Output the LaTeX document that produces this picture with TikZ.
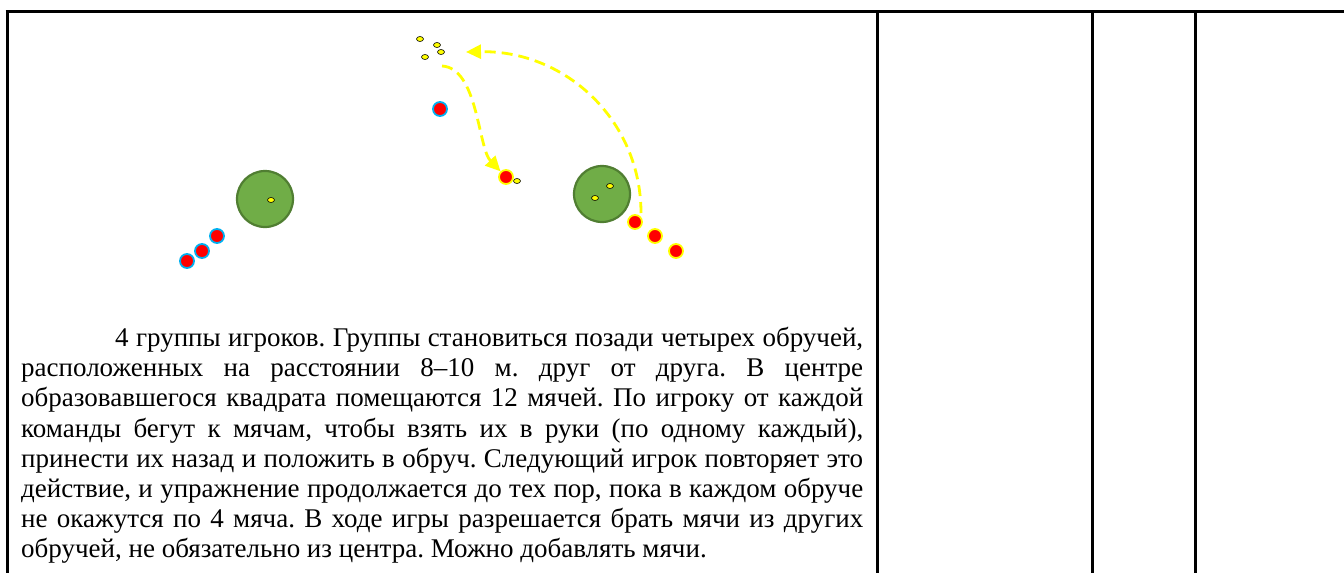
\documentclass[tikz,border=0pt]{standalone}
\usepackage{fontspec}
\setmainfont{Liberation Serif}
\usepackage{xcolor}
\usetikzlibrary{shapes,arrows.meta,positioning}

\definecolor{hoopfill}{HTML}{70AD47}
\definecolor{hoopedge}{HTML}{507E32}
\definecolor{capblue}{HTML}{00B0F0}
\definecolor{ballyellow}{HTML}{FFFF00}

\newcommand{\descrfont}{\rmfamily\fontsize{27}{30.2}\selectfont\frenchspacing
  \spaceskip=0.25em plus 0.5em minus 0.12em\relax}

\begin{document}
\begin{tikzpicture}[x=1pt, y=-1pt,
    hoop/.style={circle, draw=hoopedge, fill=hoopfill, line width=2.2pt, minimum size=56pt, inner sep=0pt},
    ball/.style={ellipse, draw=black, fill=ballyellow, line width=0.6pt, minimum width=7pt, minimum height=5pt, inner sep=0pt},
    blueplayer/.style={circle, fill=red, draw=capblue, line width=1.8pt, minimum size=14pt, inner sep=0pt},
    yellowplayer/.style={circle, fill=red, draw=ballyellow, line width=1.8pt, minimum size=14pt, inner sep=0pt},
    run/.style={draw=ballyellow, line width=2.8pt, dash pattern=on 11pt off 6pt, -{Triangle[length=15pt,width=14pt]}},
    tableline/.style={line width=3pt, black},
    descr/.style={text width=842pt, align=justify, inner sep=0pt, font=\descrfont}
]
\useasboundingbox (0,0) rectangle (1344,573);

% Table frame
\draw[tableline] (5.5,11.5) -- (1344,11.5);
\draw[tableline] (7,10) -- (7,573);
\draw[tableline] (877,10) -- (877,573);
\draw[tableline] (1092,10) -- (1092,573);
\draw[tableline] (1195,10) -- (1195,573);

% Hoops
\node[hoop] (hoopwest) at (265,199) {};
\node[hoop] (hoopeast) at (602,194) {};

% Balls
\node[ball] (ballw) at (271,200) {};
\node[ball] (balle1) at (610,186) {};
\node[ball] (balle2) at (595,198) {};
\node[ball] (pile1) at (420,39) {};
\node[ball] (pile2) at (437,45) {};
\node[ball] (pile3) at (441,52) {};
\node[ball] (pile4) at (425,57) {};
\node[ball] (carried) at (517,181) {};

% Players
\node[blueplayer] (blue1) at (217,236) {};
\node[blueplayer] (blue2) at (202,251) {};
\node[blueplayer] (blue3) at (187,261) {};
\node[blueplayer] (blue4) at (440,109) {};
\node[yellowplayer] (yellow1) at (635,222) {};
\node[yellowplayer] (yellow2) at (655,236) {};
\node[yellowplayer] (yellow3) at (676,251) {};
\node[yellowplayer] (runner) at (506,177) {};

% Runs
\coordinate (pileout) at (442,66);
\coordinate (backstart) at (641,213);
\coordinate (backend) at (466,52);
\draw[run] (pileout) .. controls (478,68) and (478,148) .. (runner);
\draw[run] (backstart) .. controls (641,120) and (565,50) .. (backend);

% Description
\node[descr, anchor=base west] (rules) at (21,346.5) {\hspace*{94pt}4 группы игроков. Группы становиться позади четырех обручей,\linebreak
расположенных на расстоянии 8–10 м. друг от друга. В центре\linebreak
образовавшегося квадрата помещаются 12 мячей. По игроку от каждой\linebreak
команды бегут к мячам, чтобы взять их в руки (по одному каждый),\linebreak
принести их назад и положить в обруч. Следующий игрок повторяет это\linebreak
действие, и упражнение продолжается до тех пор, пока в каждом обруче\linebreak
не окажутся по 4 мяча. В ходе игры разрешается брать мячи из других\linebreak
обручей, не обязательно из центра. Можно добавлять мячи.};

\end{tikzpicture}
\end{document}
